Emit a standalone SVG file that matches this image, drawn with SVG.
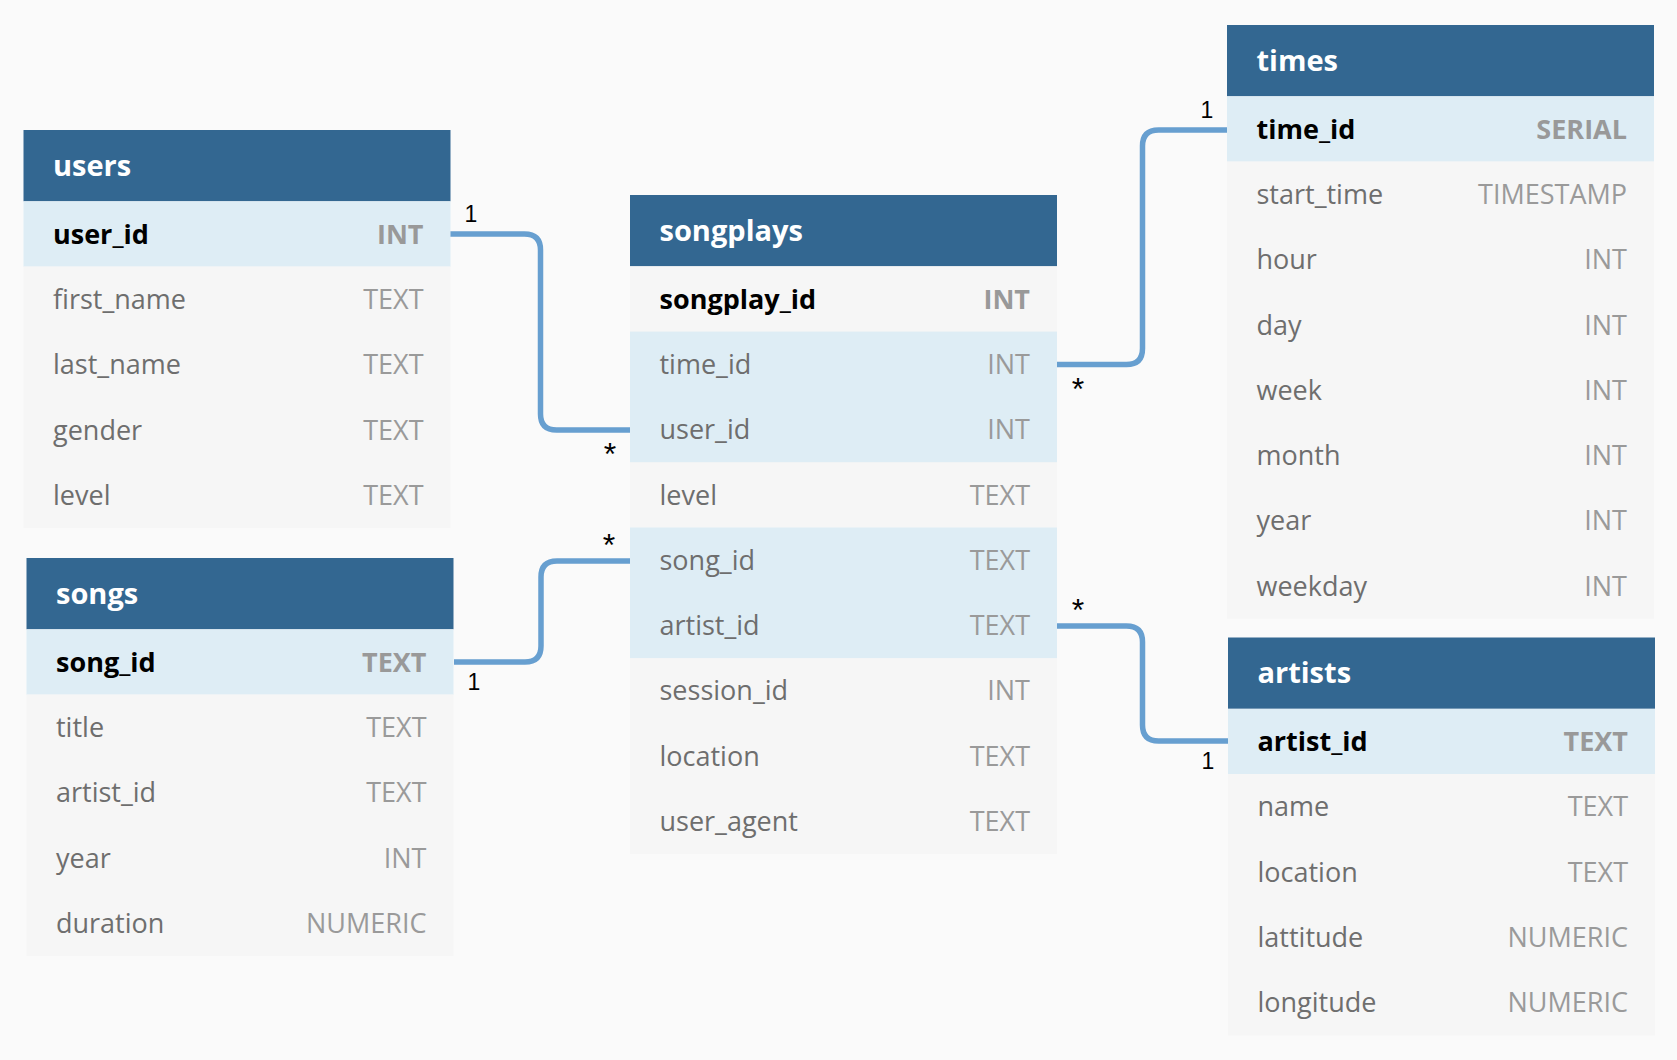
<svg xmlns="http://www.w3.org/2000/svg" width="1677" height="1060" viewBox="0 0 1677 1060">
<style>
.bg{fill:#fafafa}
.hd{fill:#336791}
.pk{fill:#deedf5}
.rw{fill:#f6f6f6}
.ht{font-family:"Open Sans",sans-serif;font-weight:700;font-size:29px;fill:#ffffff}
.nb{font-family:"Open Sans",sans-serif;font-weight:700;font-size:27px;fill:#000000}
.nm{font-family:"Open Sans",sans-serif;font-size:27px;fill:#6e6e6e}
.tb{font-family:"Open Sans",sans-serif;font-weight:700;font-size:27px;fill:#999999;text-anchor:end}
.tp{font-family:"Open Sans",sans-serif;font-size:27px;fill:#9a9a9a;text-anchor:end}
.cn{fill:none;stroke:#679fd0;stroke-width:5.5}
.lb{font-family:"Liberation Sans",Arial,sans-serif;font-size:23px;fill:#000000;text-anchor:middle}
.st{font-family:"Liberation Sans",Arial,sans-serif;font-size:32px;fill:#000000;text-anchor:middle}
</style>
<rect class="bg" x="0" y="0" width="1677" height="1060"/>

<g id="connectors">
<path class="cn" d="M450,234 H524.5 Q540.5,234 540.5,250 V414 Q540.5,430 556.5,430 H630"/>
<path class="cn" d="M1057,364.5 H1126.5 Q1142.5,364.5 1142.5,348.5 V146 Q1142.5,130 1158.5,130 H1227"/>
<path class="cn" d="M454,662 H525 Q541,662 541,646 V577 Q541,561 557,561 H630"/>
<path class="cn" d="M1057,626 H1126.5 Q1142.5,626 1142.5,642 V725 Q1142.5,741 1158.5,741 H1228"/>
<text class="lb" x="471" y="222">1</text>
<text class="st" x="610" y="465">*</text>
<text class="lb" x="1207" y="118">1</text>
<text class="st" x="1078" y="400">*</text>
<text class="lb" x="474" y="690">1</text>
<text class="st" x="609" y="556">*</text>
<text class="st" x="1078" y="621">*</text>
<text class="lb" x="1208" y="769">1</text>
</g>

<g id="users">
<rect class="hd" x="23.5" y="130" width="427" height="71.3"/>
<rect class="pk" x="23.5" y="201.3" width="427" height="65.3"/>
<rect class="rw" x="23.5" y="266.6" width="427" height="261.2"/>
<text class="ht" x="53" y="175.7">users</text>
<text class="nb" x="53" y="243.6">user_id</text><text class="tb" x="423.5" y="243.6">INT</text>
<text class="nm" x="53" y="308.9">first_name</text><text class="tp" x="423.5" y="308.9">TEXT</text>
<text class="nm" x="53" y="374.2">last_name</text><text class="tp" x="423.5" y="374.2">TEXT</text>
<text class="nm" x="53" y="439.5">gender</text><text class="tp" x="423.5" y="439.5">TEXT</text>
<text class="nm" x="53" y="504.8">level</text><text class="tp" x="423.5" y="504.8">TEXT</text>
</g>

<g id="songs">
<rect class="hd" x="26.5" y="558" width="427" height="71.3"/>
<rect class="pk" x="26.5" y="629.3" width="427" height="65.3"/>
<rect class="rw" x="26.5" y="694.6" width="427" height="261.2"/>
<text class="ht" x="56" y="603.7">songs</text>
<text class="nb" x="56" y="671.6">song_id</text><text class="tb" x="426.5" y="671.6">TEXT</text>
<text class="nm" x="56" y="736.9">title</text><text class="tp" x="426.5" y="736.9">TEXT</text>
<text class="nm" x="56" y="802.2">artist_id</text><text class="tp" x="426.5" y="802.2">TEXT</text>
<text class="nm" x="56" y="867.5">year</text><text class="tp" x="426.5" y="867.5">INT</text>
<text class="nm" x="56" y="932.8">duration</text><text class="tp" x="426.5" y="932.8">NUMERIC</text>
</g>

<g id="songplays">
<rect class="hd" x="630" y="195" width="427" height="71.3"/>
<rect class="rw" x="630" y="266.3" width="427" height="587.7"/>
<rect class="pk" x="630" y="331.6" width="427" height="130.6"/>
<rect class="pk" x="630" y="527.5" width="427" height="130.6"/>
<text class="ht" x="659.5" y="240.7">songplays</text>
<text class="nb" x="659.5" y="308.6">songplay_id</text><text class="tb" x="1030" y="308.6">INT</text>
<text class="nm" x="659.5" y="373.9">time_id</text><text class="tp" x="1030" y="373.9">INT</text>
<text class="nm" x="659.5" y="439.2">user_id</text><text class="tp" x="1030" y="439.2">INT</text>
<text class="nm" x="659.5" y="504.5">level</text><text class="tp" x="1030" y="504.5">TEXT</text>
<text class="nm" x="659.5" y="569.8">song_id</text><text class="tp" x="1030" y="569.8">TEXT</text>
<text class="nm" x="659.5" y="635.1">artist_id</text><text class="tp" x="1030" y="635.1">TEXT</text>
<text class="nm" x="659.5" y="700.4">session_id</text><text class="tp" x="1030" y="700.4">INT</text>
<text class="nm" x="659.5" y="765.7">location</text><text class="tp" x="1030" y="765.7">TEXT</text>
<text class="nm" x="659.5" y="831">user_agent</text><text class="tp" x="1030" y="831">TEXT</text>
</g>

<g id="times">
<rect class="hd" x="1227" y="25" width="427" height="71.3"/>
<rect class="pk" x="1227" y="96.3" width="427" height="65.3"/>
<rect class="rw" x="1227" y="161.6" width="427" height="457.1"/>
<text class="ht" x="1256.5" y="70.7">times</text>
<text class="nb" x="1256.5" y="138.6">time_id</text><text class="tb" x="1627" y="138.6">SERIAL</text>
<text class="nm" x="1256.5" y="203.9">start_time</text><text class="tp" x="1627" y="203.9">TIMESTAMP</text>
<text class="nm" x="1256.5" y="269.2">hour</text><text class="tp" x="1627" y="269.2">INT</text>
<text class="nm" x="1256.5" y="334.5">day</text><text class="tp" x="1627" y="334.5">INT</text>
<text class="nm" x="1256.5" y="399.8">week</text><text class="tp" x="1627" y="399.8">INT</text>
<text class="nm" x="1256.5" y="465.1">month</text><text class="tp" x="1627" y="465.1">INT</text>
<text class="nm" x="1256.5" y="530.4">year</text><text class="tp" x="1627" y="530.4">INT</text>
<text class="nm" x="1256.5" y="595.7">weekday</text><text class="tp" x="1627" y="595.7">INT</text>
</g>

<g id="artists">
<rect class="hd" x="1228" y="637.5" width="427" height="71.3"/>
<rect class="pk" x="1228" y="708.8" width="427" height="65.3"/>
<rect class="rw" x="1228" y="774.1" width="427" height="261.2"/>
<text class="ht" x="1257.5" y="683.2">artists</text>
<text class="nb" x="1257.5" y="751.1">artist_id</text><text class="tb" x="1628" y="751.1">TEXT</text>
<text class="nm" x="1257.5" y="816.4">name</text><text class="tp" x="1628" y="816.4">TEXT</text>
<text class="nm" x="1257.5" y="881.7">location</text><text class="tp" x="1628" y="881.7">TEXT</text>
<text class="nm" x="1257.5" y="947">lattitude</text><text class="tp" x="1628" y="947">NUMERIC</text>
<text class="nm" x="1257.5" y="1012.3">longitude</text><text class="tp" x="1628" y="1012.3">NUMERIC</text>
</g>
</svg>
